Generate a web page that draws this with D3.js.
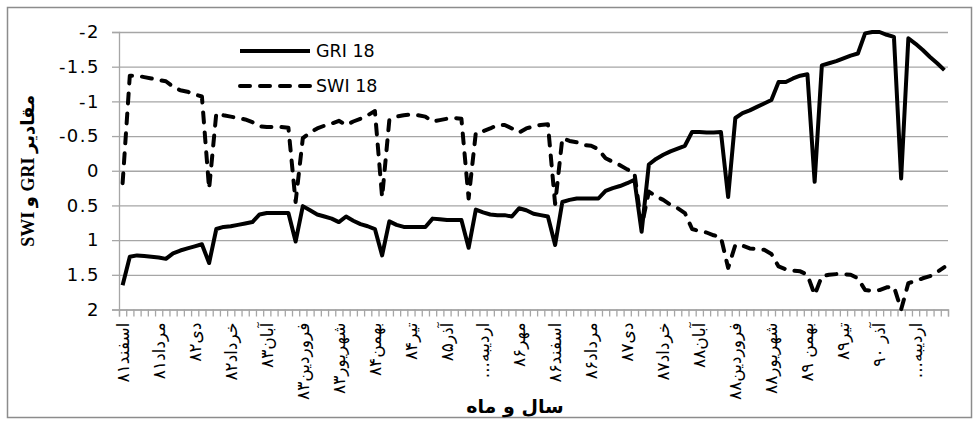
<!DOCTYPE html>
<html>
<head>
<meta charset="utf-8">
<script src="https://cdn.jsdelivr.net/npm/d3@7"></script>
<style>
  body { margin: 0; background: #fff; }
  #chart { width: 979px; height: 425px; }
  .grid line { stroke: #a6a6a6; stroke-width: 1.3; }
  .axis path, .axis line { stroke: #a6a6a6; stroke-width: 1.3; }
  .axis text { fill: #000; }
</style>
</head>
<body>
<div id="chart"></div>
<script>
// month labels shown under every 5th month (water-year numbering, as in the source)
var tickLabels = ["اسفند۸۱", "مرداد۸۱", "دی۸۲", "خرداد۸۲", "آبان۸۳", "فروردین۸۳",
    "شهریور۸۳", "بهمن۸۴", "تیر۸۴", "آذر۸۵", "اردیبه...", "مهر۸۶", "اسفند۸۶",
    "مرداد۸۶", "دی۸۷", "خرداد۸۷", "آبان۸۸", "فروردین۸۸", "شهریور۸۸", "بهمن ۸۹",
    "تیر۸۹", "آذر ۹۰", "اردیبه..."];

var yTicks = [-2, -1.5, -1, -0.5, 0, 0.5, 1, 1.5, 2];

var gri = [1.65, 1.24, 1.22, 1.23, 1.24, 1.25, 1.27, 1.19, 1.15, 1.12,
    1.09, 1.06, 1.33, 0.84, 0.81, 0.80, 0.78, 0.76, 0.74, 0.63,
    0.61, 0.61, 0.61, 0.61, 1.02, 0.51, 0.57, 0.63, 0.66, 0.69,
    0.74, 0.66, 0.72, 0.77, 0.80, 0.84, 1.22, 0.73, 0.78, 0.81,
    0.81, 0.81, 0.81, 0.69, 0.70, 0.71, 0.71, 0.71, 1.11, 0.56,
    0.60, 0.63, 0.64, 0.64, 0.66, 0.54, 0.57, 0.62, 0.64, 0.66,
    1.07, 0.45, 0.42, 0.40, 0.40, 0.40, 0.40, 0.29, 0.25, 0.22,
    0.18, 0.13, 0.88, -0.09, -0.17, -0.23, -0.28, -0.32, -0.36, -0.56,
    -0.56, -0.55, -0.55, -0.56, 0.38, -0.76, -0.83, -0.87, -0.92, -0.97,
    -1.02, -1.28, -1.28, -1.33, -1.37, -1.39, 0.16, -1.52, -1.55, -1.58,
    -1.62, -1.66, -1.69, -1.98, -2.00, -2.00, -1.96, -1.93, 0.11, -1.91,
    -1.83, -1.74, -1.64, -1.55, -1.45];

var swi = [0.18, -1.37, -1.37, -1.35, -1.33, -1.31, -1.29, -1.21, -1.16, -1.14,
    -1.10, -1.07, 0.26, -0.83, -0.80, -0.78, -0.76, -0.74, -0.70, -0.64,
    -0.63, -0.63, -0.63, -0.62, 0.45, -0.47, -0.55, -0.61, -0.65, -0.68,
    -0.72, -0.66, -0.71, -0.75, -0.80, -0.86, 0.38, -0.73, -0.78, -0.80,
    -0.81, -0.80, -0.78, -0.71, -0.73, -0.75, -0.76, -0.75, 0.40, -0.55,
    -0.57, -0.61, -0.66, -0.66, -0.61, -0.55, -0.61, -0.64, -0.66, -0.67,
    0.48, -0.47, -0.43, -0.41, -0.37, -0.36, -0.31, -0.18, -0.13, -0.08,
    -0.02, 0.03, 0.80, 0.30, 0.37, 0.42, 0.49, 0.54, 0.61, 0.84,
    0.87, 0.89, 0.93, 0.96, 1.40, 1.07, 1.08, 1.12, 1.13, 1.14,
    1.20, 1.38, 1.42, 1.44, 1.45, 1.50, 1.79, 1.52, 1.50, 1.49,
    1.49, 1.50, 1.55, 1.72, 1.73, 1.72, 1.68, 1.67, 2.00, 1.62,
    1.59, 1.55, 1.52, 1.46, 1.39];

var months = d3.range(gri.length);

// set the dimensions and margins of the graph
var margin = {top: 32, right: 31, bottom: 115.5, left: 119},
    width = 979 - margin.left - margin.right,
    height = 425 - margin.top - margin.bottom;

var svg = d3.select("#chart").append("svg")
    .attr("width", 979)
    .attr("height", 425);

// chart area border
svg.append("rect")
    .attr("x", 7.5).attr("y", 7.5)
    .attr("width", 964).attr("height", 410)
    .attr("fill", "none")
    .attr("stroke", "#8c8c8c")
    .attr("stroke-width", 1.5);

var g = svg.append("g")
    .attr("transform", "translate(" + margin.left + "," + margin.top + ")");

// set the ranges (value axis is reversed: -2 on top)
var x = d3.scaleBand().domain(months).range([0, width]).padding(0);
var xEdge = d3.scaleLinear().domain([0, months.length]).range([0, width]);
var y = d3.scaleLinear().domain([-2, 2]).range([0, height]);

// horizontal gridlines
g.append("g")
    .attr("class", "grid")
    .call(d3.axisLeft(y).tickValues(yTicks).tickSize(-width).tickFormat(""))
    .call(s => s.select(".domain").remove());

// Y axis
g.append("g")
    .attr("class", "y axis")
    .call(d3.axisLeft(y).tickValues(yTicks).tickSize(7).tickPadding(12)
        .tickFormat(d => String(d)))
    .selectAll("text")
    .style("font-family", "DejaVu Sans, sans-serif")
    .style("font-size", "18px")
    .style("letter-spacing", "1.5px");

// X axis: tick marks between months
g.append("g")
    .attr("class", "x axis")
    .attr("transform", "translate(0," + height + ")")
    .call(d3.axisBottom(xEdge).tickValues(d3.range(months.length + 1))
        .tickSize(7).tickFormat(""));

// X axis labels every fifth month
g.append("g")
    .attr("class", "x axis labels")
    .attr("transform", "translate(0," + height + ")")
    .call(d3.axisBottom(x).tickValues(months.filter(i => i % 5 === 0))
        .tickSize(0).tickFormat(i => "\u202B" + tickLabels[i / 5] + "\u202C"))
    .call(s => s.select(".domain").remove())
    .selectAll("text")
    .attr("transform", "rotate(-90)")
    .attr("x", -13)
    .attr("y", 0)
    .attr("dy", "0.35em")
    .style("text-anchor", "end")
    .style("font-family", "DejaVu Sans, sans-serif")
    .style("font-size", "17px");

// lines
var line = d3.line()
    .x((d, i) => x(i) + x.bandwidth() / 2)
    .y(d => y(d));

g.append("path")
    .datum(swi)
    .attr("fill", "none")
    .attr("stroke", "#000")
    .attr("stroke-width", 4)
    .attr("stroke-linecap", "round")
    .attr("stroke-linejoin", "round")
    .attr("stroke-dasharray", "10,10")
    .attr("d", line);

g.append("path")
    .datum(gri)
    .attr("fill", "none")
    .attr("stroke", "#000")
    .attr("stroke-width", 4)
    .attr("stroke-linejoin", "round")
    .attr("d", line);

// legend
var legend = [{name: "GRI 18", dash: null, y: 51}, {name: "SWI 18", dash: "10,10", y: 86}];
var lg = svg.selectAll(".legend")
    .data(legend)
    .enter().append("g")
    .attr("class", "legend");

lg.append("line")
    .attr("x1", 240).attr("x2", 310)
    .attr("y1", d => d.y).attr("y2", d => d.y)
    .attr("stroke", "#000")
    .attr("stroke-width", 4)
    .attr("stroke-linecap", d => d.dash ? "round" : "butt")
    .attr("stroke-dasharray", d => d.dash);

lg.append("text")
    .attr("x", 316)
    .attr("y", d => d.y)
    .attr("dy", "0.36em")
    .style("font-family", "DejaVu Sans, sans-serif")
    .style("font-size", "17.5px")
    .text(d => d.name);

// axis titles
svg.append("text")
    .attr("transform", "translate(34," + (margin.top + height / 2) + ") rotate(-90)")
    .style("text-anchor", "middle")
    .style("font-family", "Liberation Serif, DejaVu Sans, serif")
    .style("font-weight", "bold")
    .style("font-size", "18px")
    .text("\u202Bمقادیر GRI و SWI\u202C");

svg.append("text")
    .attr("x", 515)
    .attr("y", 413)
    .style("text-anchor", "middle")
    .style("font-family", "DejaVu Sans, sans-serif")
    .style("font-weight", "bold")
    .style("font-size", "19px")
    .text("\u202Bسال و ماه\u202C");
</script>
</body>
</html>
